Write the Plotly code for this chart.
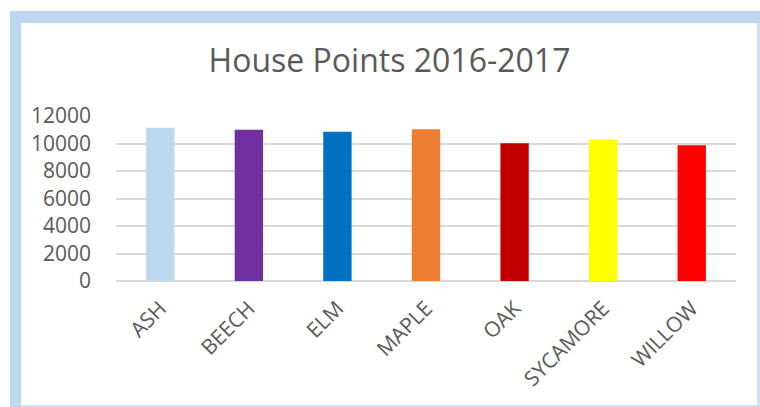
import plotly.graph_objects as go

houses = ["ASH", "BEECH", "ELM", "MAPLE", "OAK", "SYCAMORE", "WILLOW"]
points = [11150, 11000, 10860, 11030, 10010, 10300, 9870]
colors = ["#BDD7EE", "#7030A0", "#0070C0", "#ED7D31", "#C00000", "#FFFF00", "#FF0000"]
y_ticks = [0, 2000, 4000, 6000, 8000, 10000, 12000]

W, H = 760, 407
L, R, T, B = 116, 736, 116, 281  # plot area in pixels

def px(x):
    return (x - L) / (R - L)

def py(y):
    return (B - y) / (B - T)

fig = go.Figure(
    go.Bar(
        x=houses,
        y=points,
        marker=dict(color=colors, line=dict(width=0)),
        width=0.32,
        hoverinfo="x+y",
    )
)

frame = "#BDD7EE"
shapes = [
    dict(type="rect", xref="paper", yref="paper", x0=px(10), x1=px(760), y0=py(23), y1=py(11),
         fillcolor=frame, line=dict(width=0), layer="below"),
    dict(type="rect", xref="paper", yref="paper", x0=px(10), x1=px(21), y0=py(407), y1=py(11),
         fillcolor=frame, line=dict(width=0), layer="below"),
    dict(type="rect", xref="paper", yref="paper", x0=px(757), x1=px(760), y0=py(407), y1=py(23),
         fillcolor="#CFE2F3", line=dict(width=0), layer="below"),
    dict(type="rect", xref="paper", yref="paper", x0=px(21), x1=px(760), y0=py(407), y1=py(405),
         fillcolor="#CFE2F3", line=dict(width=0), layer="below"),
]

fig.update_layout(
    width=W,
    height=H,
    margin=dict(l=L, r=W - R, t=T, b=H - B, pad=0),
    paper_bgcolor="white",
    plot_bgcolor="white",
    showlegend=False,
    bargap=0.68,
    font=dict(family="Open Sans", color="#595959"),
    title=dict(
        text="House Points 2016-2017",
        font=dict(family="Open Sans", size=32, color="#595959"),
        x=389.5 / W,
        xanchor="center",
        xref="container",
        yref="container",
        y=1 - 61 / H,
        yanchor="middle",
    ),
    shapes=shapes,
)

fig.update_yaxes(
    range=[0, 12000],
    tickvals=y_ticks,
    tickformat="d",
    showgrid=True,
    gridcolor="#D9D9D9",
    gridwidth=1.5,
    zeroline=True,
    zerolinecolor="#D9D9D9",
    zerolinewidth=1.5,
    showline=False,
    ticks="",
    ticklabelstandoff=24,
    tickfont=dict(size=21, color="#595959"),
    fixedrange=True,
)

fig.update_xaxes(
    showgrid=False,
    showline=False,
    ticks="",
    tickangle=-45,
    ticklabelstandoff=10,
    tickfont=dict(size=21, color="#595959"),
    fixedrange=True,
)

fig.write_html(
    "out.html",
    config={"displayModeBar": False},
    post_script="document.body.style.margin='0';document.body.style.overflow='hidden';",
)
